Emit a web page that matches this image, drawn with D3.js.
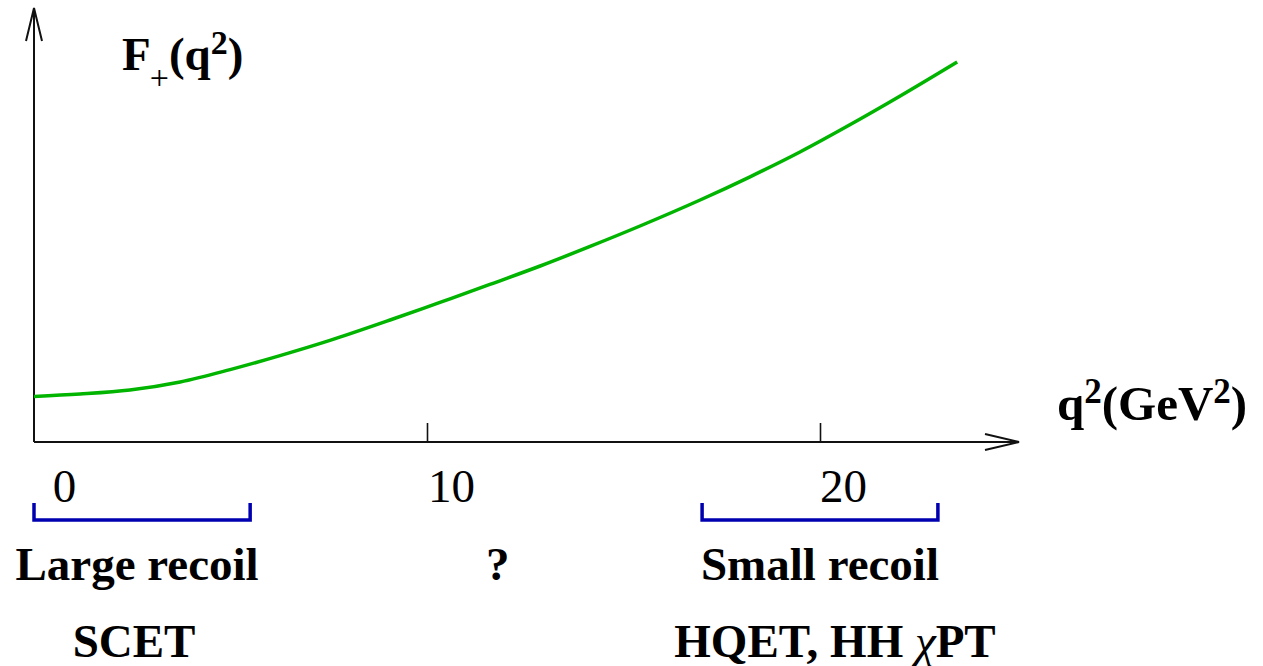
<!DOCTYPE html>
<html>
<head>
<meta charset="utf-8">
<script src="https://cdn.jsdelivr.net/npm/d3@7"></script>
<style>
  html, body { margin: 0; padding: 0; background: #fff; }
  svg { display: block; }
  text { font-family: "Liberation Serif", "Times New Roman", serif; fill: #000; }
</style>
</head>
<body>
<svg id="chart" width="1263" height="666"></svg>
<script>
// Form factor F+(q^2) versus q^2 (GeV^2), arbitrary vertical units
const q2 = [0, 1.17, 2.44, 3.72, 4.99, 6.26, 7.53, 9.06, 10.33, 11.6, 12.88, 14.15, 15.42, 16.95, 18.22, 19.49, 20.76, 22.04, 23.49];
const fPlus = [1.14, 1.2, 1.3, 1.5, 1.81, 2.16, 2.54, 3.05, 3.49, 3.94, 4.4, 4.89, 5.4, 6.05, 6.63, 7.25, 7.93, 8.65, 9.5];

// Axis ticks
const tickValues = [0, 10, 20];
const tickLabels = ["0", "10", "20"];
const tickLabelShift = [30, 24, 23];

// Kinematic regions (q^2 ranges) and their labels
const regionRanges = [[0, 5.5], [17, 23]];
const regionNames = ["Large recoil", "Small recoil"];
const regionTheories = ["SCET", "HQET, HH \u03C7PT"];
const middleLabel = "?";
const middleQ2 = 11.8;

const svg = d3.select("#chart");

const x = d3.scaleLinear().domain([0, 20]).range([34, 820]);
const y = d3.scaleLinear().domain([0, 10]).range([442, 42]);

const axisY0 = y(0);
const axisX0 = x(0);

// Axis lines with open arrowheads
const axisG = svg.append("g").attr("stroke", "#111").attr("stroke-width", 2).attr("fill", "none");
axisG.append("line").attr("x1", axisX0).attr("y1", axisY0).attr("x2", 1019).attr("y2", axisY0);
axisG.append("polyline").attr("points", `985,${axisY0 - 8} 1019,${axisY0} 985,${axisY0 + 8}`);
axisG.append("line").attr("x1", axisX0).attr("y1", axisY0).attr("x2", axisX0).attr("y2", 8);
axisG.append("polyline").attr("points", `${axisX0 - 8},41 ${axisX0},8 ${axisX0 + 8},41`);

// Bottom axis: ticks pointing up, labels below
const xAxis = d3.axisBottom(x)
  .tickValues(tickValues)
  .tickFormat((d, i) => tickLabels[i])
  .tickSizeInner(-19)
  .tickSizeOuter(0)
  .tickPadding(27);

const gx = svg.append("g").attr("transform", `translate(0,${axisY0})`).call(xAxis);
gx.select(".domain").remove();
gx.selectAll(".tick line").attr("stroke", "#111").attr("stroke-width", 1.6);
gx.selectAll(".tick text")
  .attr("font-family", "Liberation Serif")
  .attr("font-size", 47)
  .attr("fill", "#000")
  .attr("dx", (d, i) => tickLabelShift[i]);
gx.selectAll(".tick").filter(d => d === 0).select("line").remove();

// Curve
const line = d3.line()
  .x((d, i) => x(q2[i]))
  .y(d => y(d))
  .curve(d3.curveCatmullRom.alpha(0.5));

svg.append("path")
  .datum(fPlus)
  .attr("d", line)
  .attr("fill", "none")
  .attr("stroke", "#00b400")
  .attr("stroke-width", 3.5);

// Region brackets
const bracketTop = 503, bracketBottom = 520;
svg.append("g").selectAll("path")
  .data(regionRanges)
  .join("path")
  .attr("d", d => `M${x(d[0])},${bracketTop}V${bracketBottom}H${x(d[1])}V${bracketTop}`)
  .attr("fill", "none")
  .attr("stroke", "#0000b0")
  .attr("stroke-width", 3.5);

// Region names and theory labels
const labelG = svg.append("g").attr("font-weight", "bold").attr("font-size", 47).attr("text-anchor", "middle");
labelG.selectAll("text.region")
  .data(regionRanges)
  .join("text")
  .attr("class", "region")
  .attr("x", (d, i) => x((d[0] + d[1]) / 2) + (i === 0 ? -5 : 0))
  .attr("y", 580)
  .text((d, i) => regionNames[i]);

labelG.append("text")
  .attr("x", x(middleQ2))
  .attr("y", 580)
  .text(middleLabel);

labelG.selectAll("text.theory")
  .data(regionRanges)
  .join("text")
  .attr("class", "theory")
  .attr("x", (d, i) => x((d[0] + d[1]) / 2) + (i === 0 ? -8 : 15))
  .attr("y", 657)
  .each(function(d, i) {
    const t = d3.select(this);
    const parts = regionTheories[i].split("\u03C7");
    t.append("tspan").text(parts[0]);
    if (parts.length > 1) {
      t.append("tspan").attr("font-weight", "normal").attr("font-style", "italic").text("\u03C7");
      t.append("tspan").text(parts[1]);
    }
  });

// Axis titles
const yTitle = svg.append("text").attr("x", 122).attr("y", 70).attr("font-weight", "bold").attr("font-size", 47);
yTitle.append("tspan").text("F");
yTitle.append("tspan").attr("font-weight", "normal").attr("font-size", 34).attr("dx", -1).attr("y", 89).text("+");
yTitle.append("tspan").attr("y", 70).text("(q");
yTitle.append("tspan").attr("font-size", 34).attr("y", 54).text("2");
yTitle.append("tspan").attr("y", 70).text(")");

const xTitle = svg.append("text").attr("x", 1057).attr("y", 420).attr("font-weight", "bold").attr("font-size", 49);
xTitle.append("tspan").text("q");
xTitle.append("tspan").attr("font-size", 35).attr("y", 403).text("2");
xTitle.append("tspan").attr("y", 420).text("(GeV");
xTitle.append("tspan").attr("font-size", 35).attr("y", 403).text("2");
xTitle.append("tspan").attr("y", 420).text(")");
</script>
</body>
</html>
